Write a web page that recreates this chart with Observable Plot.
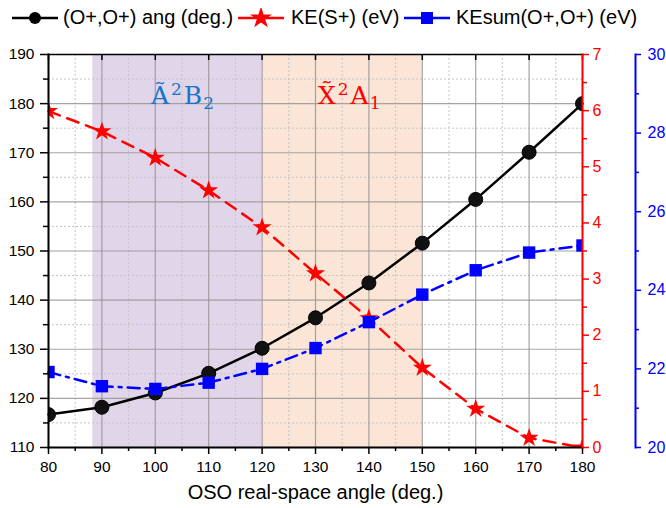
<!DOCTYPE html>
<html><head><meta charset="utf-8">
<script src="https://cdn.jsdelivr.net/npm/d3@7"></script>
<script src="https://cdn.jsdelivr.net/npm/@observablehq/plot@0.6"></script>
<style>
body{margin:0;background:#fff;font-family:"Liberation Sans",Arial,sans-serif;}
#legend{position:relative;height:36px;font-size:20px;white-space:nowrap;}
#legend .sym{position:absolute;top:8px;}
#legend .lab{position:absolute;top:6px;line-height:23px;color:#000;}
</style></head><body>
<div id="legend"></div>
<div id="chart"></div>
<script>
// ---- data ----
const xs = [80, 90, 100, 110, 120, 130, 140, 150, 160, 170, 180];
const angOO = [116.7, 118.2, 121.1, 125.1, 130.2, 136.4, 143.5, 151.6, 160.5, 170.1, 180.0];
const keS = [5.99, 5.63, 5.16, 4.58, 3.92, 3.10, 2.30, 1.42, 0.69, 0.17, 0.0];
const keSum = [21.92, 21.56, 21.49, 21.65, 22.0, 22.53, 23.19, 23.89, 24.51, 24.96, 25.14];
const seriesNames = ["(O+,O+) ang (deg.)", "KE(S+) (eV)", "KEsum(O+,O+) (eV)"];
const xTicks = [80, 90, 100, 110, 120, 130, 140, 150, 160, 170, 180];
const xMinor = [85, 95, 105, 115, 125, 135, 145, 155, 165, 175];
const leftTicks = [110, 120, 130, 140, 150, 160, 170, 180, 190];
const leftMinor = [115, 125, 135, 145, 155, 165, 175, 185];
const redTicks = [0, 1, 2, 3, 4, 5, 6, 7];
const redMinor = [0.5, 1.5, 2.5, 3.5, 4.5, 5.5, 6.5];
const blueTicks = [20, 22, 24, 26, 28, 30];
const blueMinor = [21, 23, 25, 27, 29];
const bandB2 = [88.3, 120];
const bandA1 = [120, 150];
// state labels: [main, superscript, main, subscript]
const labelB2 = ["\u00C3", "2", "B", "2"];
const labelA1 = ["X\u0303", "2", "A", "1"];
const xTitle = "OSO real-space angle (deg.)";

// ---- secondary axes mapped onto the left domain ----
const yMin = leftTicks[0], yMax = leftTicks[leftTicks.length - 1];
const rMin = redTicks[0], rMax = redTicks[redTicks.length - 1];
const bMin = blueTicks[0], bMax = blueTicks[blueTicks.length - 1];
const toRed = v => yMin + (v - rMin) * (yMax - yMin) / (rMax - rMin);
const fromRed = y => rMin + (y - yMin) * (rMax - rMin) / (yMax - yMin);
const toBlue = v => yMin + (v - bMin) * (yMax - yMin) / (bMax - bMin);
const fromBlue = y => bMin + (y - yMin) * (bMax - bMin) / (yMax - yMin);

const rows = xs.map((x, i) => ({x, ang: angOO[i], ke: toRed(keS[i]), sum: toBlue(keSum[i])}));
const bands = [{x1: bandB2[0], x2: bandB2[1]}, {x1: bandA1[0], x2: bandA1[1]}];

const BLACK = "#000000", RED = "#ff0000", BLUE = "#0000ff";
const empty = () => "";

// composite label (main / sup / main / sub) as text marks
const ctx = document.createElement("canvas").getContext("2d");
const SERIF = "'DejaVu Serif', serif";
function stateLabel(parts, band, color, shiftPx) {
  const mainSize = 25, smallSize = 17;
  const sizes = [mainSize, smallSize, mainSize, smallSize];
  const base = [0, -9, 0, 5];
  const gaps = [0, 2, 2, 1];
  const widths = parts.map((p, i) => { ctx.font = `${sizes[i]}px 'DejaVu Serif'`; return ctx.measureText(p).width; });
  let total = 0; const offs = [];
  parts.forEach((p, i) => { total += gaps[i]; offs.push(total); total += widths[i]; });
  const anchor = [{x: (band.x1 + band.x2) / 2, y: yMax - 10}];
  return parts.map((p, i) => Plot.text(anchor, {
    x: "x", y: "y", text: () => p, fill: color, fontSize: sizes[i], fontFamily: SERIF,
    textAnchor: "start", lineAnchor: "middle",
    dx: offs[i] - total / 2 + shiftPx, dy: -0.32 * sizes[i] + base[i]
  }));
}

const chart = Plot.plot({
  width: 666, height: 472,
  marginTop: 18, marginBottom: 61, marginLeft: 48, marginRight: 84,
  x: {domain: [xTicks[0], xTicks[xTicks.length - 1]]},
  y: {domain: [yMin, yMax]},
  style: {fontFamily: "'Liberation Sans', Arial, sans-serif", fontSize: "15px", background: "white", overflow: "visible", color: "black"},
  marks: [
    Plot.rect([bands[0]], {x1: "x1", x2: "x2", fill: "#e1d5ea"}),
    Plot.rect([bands[1]], {x1: "x1", x2: "x2", fill: "#fbe5d6"}),
    Plot.gridX(xMinor, {stroke: "#c4c4c4", strokeOpacity: 1, strokeDasharray: "2,2", strokeWidth: 1}),
    Plot.gridY(leftMinor, {stroke: "#c4c4c4", strokeOpacity: 1, strokeDasharray: "2,2", strokeWidth: 1}),
    Plot.gridX(xTicks, {stroke: "#959595", strokeOpacity: 0.85, strokeWidth: 1.2}),
    Plot.gridY(leftTicks, {stroke: "#959595", strokeOpacity: 0.85, strokeWidth: 1.2}),
    ...stateLabel(labelB2, bands[0], "#1874c8", 5),
    ...stateLabel(labelA1, bands[1], RED, 7),
    // series
    Plot.line(rows, {x: "x", y: "ang", stroke: BLACK, strokeWidth: 2.5}),
    Plot.dot(rows, {x: "x", y: "ang", r: 7, fill: "#111", stroke: BLACK, strokeWidth: 1, clip: true}),
    Plot.line(rows, {x: "x", y: "ke", stroke: RED, strokeWidth: 2.5, strokeDasharray: "12,8"}),
    Plot.dot(rows, {x: "x", y: "ke", symbol: "star", r: 6, fill: RED, stroke: "none", clip: true}),
    Plot.line(rows, {x: "x", y: "sum", stroke: BLUE, strokeWidth: 2.5, strokeDasharray: "12,6,3,6"}),
    Plot.dot(rows, {x: "x", y: "sum", symbol: "square", r: 7, fill: BLUE, stroke: "none", clip: true}),
    // axes
    Plot.axisX({anchor: "bottom", ticks: xTicks, tickSize: 7, tickPadding: 6, fontSize: 15.5, label: null, strokeWidth: 1.5}),
    Plot.axisX({anchor: "bottom", ticks: xMinor, tickSize: 4, tickFormat: empty, label: null, strokeWidth: 1.5}),
    Plot.axisX({anchor: "top", ticks: xTicks, tickSize: -5, tickFormat: empty, label: null, strokeWidth: 1.5}),
    Plot.axisY({anchor: "left", ticks: leftTicks, tickSize: 8, tickPadding: 6, fontSize: 15.5, label: null, strokeWidth: 1.5}),
    Plot.axisY({anchor: "left", ticks: leftMinor, tickSize: 5, tickFormat: empty, label: null, strokeWidth: 1.5}),
    Plot.axisY({anchor: "right", ticks: redTicks.map(toRed), tickFormat: d => String(Math.round(fromRed(d) * 10) / 10), tickSize: 6, tickPadding: 4, fontSize: 16, label: null, color: RED, strokeWidth: 1.5}),
    Plot.axisY({anchor: "right", ticks: redMinor.map(toRed), tickSize: 4, tickFormat: empty, label: null, color: RED, strokeWidth: 1.5}),
    Plot.axisY({anchor: "right", ticks: blueTicks.map(toBlue), dx: 53, tickFormat: d => String(Math.round(fromBlue(d) * 10) / 10), tickSize: 5, tickPadding: 7, fontSize: 16, label: null, color: BLUE, strokeWidth: 1.5}),
    Plot.axisY({anchor: "right", ticks: blueMinor.map(toBlue), dx: 53, tickSize: 3, tickFormat: empty, label: null, color: BLUE, strokeWidth: 1.5}),
    Plot.frame({anchor: "top", stroke: BLACK, strokeWidth: 1.5}),
    Plot.frame({anchor: "bottom", stroke: BLACK, strokeWidth: 2}),
    Plot.frame({anchor: "left", stroke: BLACK, strokeWidth: 2}),
    Plot.frame({anchor: "right", stroke: RED, strokeWidth: 2}),
    Plot.frame({anchor: "right", stroke: BLUE, strokeWidth: 2, dx: 53}),
    Plot.text([xTitle], {frameAnchor: "bottom", dy: 51, text: d => d, fontSize: 20, fill: BLACK})
  ]
});
document.getElementById("chart").appendChild(chart);

// ---- legend ----
const legend = document.getElementById("legend");
const legendSpec = [
  {sym: "circle", color: BLACK, x: 12, tx: 63},
  {sym: "star", color: RED, x: 238, tx: 291},
  {sym: "square", color: BLUE, x: 404, tx: 456}
];
legendSpec.forEach((s, i) => {
  const w = 46, h = 20;
  let shape;
  if (s.sym === "circle") shape = `<circle cx="${w/2}" cy="${h/2}" r="6" fill="${s.color}"/>`;
  else if (s.sym === "square") shape = `<rect x="${w/2-6}" y="${h/2-6}" width="12" height="12" fill="${s.color}"/>`;
  else shape = `<path transform="translate(${w/2},${h/2})" d="${d3.symbol(d3.symbolStar, 150)()}" fill="${s.color}"/>`;
  const div = document.createElement("div");
  div.className = "sym";
  div.style.left = s.x + "px";
  div.innerHTML = `<svg width="${w}" height="${h}"><line x1="0" x2="${w}" y1="${h/2}" y2="${h/2}" stroke="${s.color}" stroke-width="2.5"/>${shape}</svg>`;
  legend.appendChild(div);
  const lab = document.createElement("div");
  lab.className = "lab";
  lab.style.left = s.tx + "px";
  lab.textContent = seriesNames[i];
  legend.appendChild(lab);
});
</script>
</body></html>
